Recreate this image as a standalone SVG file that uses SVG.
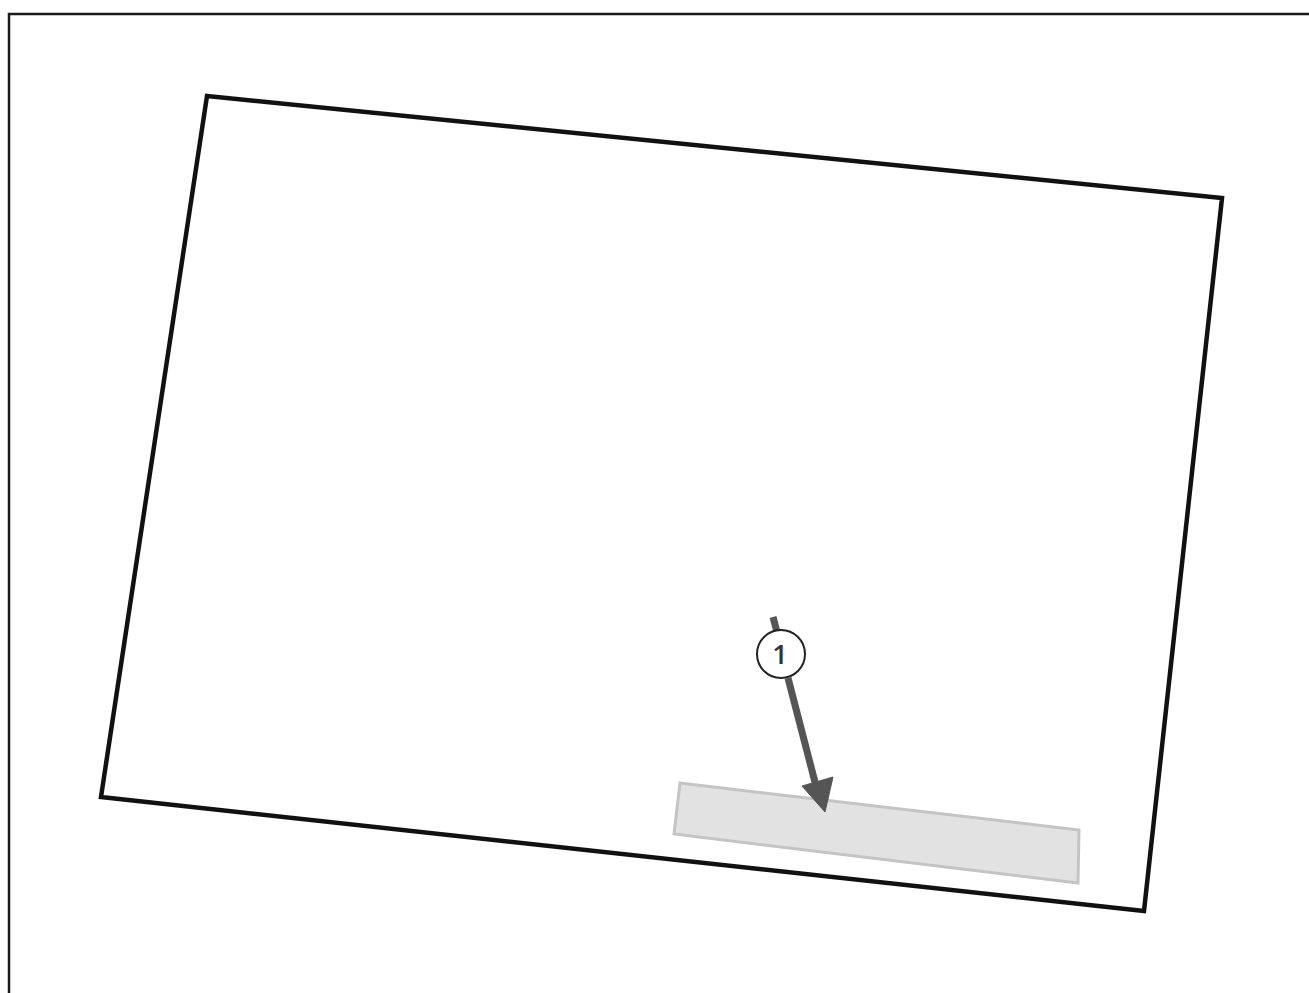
<svg xmlns="http://www.w3.org/2000/svg" width="1309" height="993" viewBox="0 0 1309 993">
<style>
.frame{fill:none;stroke:#1a1a1a;stroke-width:2.5}
.sheet{fill:#ffffff;stroke:#111;stroke-width:4.5;stroke-linejoin:miter}
.bar{fill:#e2e2e2;stroke:#c4c4c4;stroke-width:3}
.conn{stroke:#555;stroke-width:7;fill:none}
.head{fill:#555;stroke:#555;stroke-width:1;stroke-linejoin:round}
.badge{fill:#fff;stroke:#222;stroke-width:2}
.num{font-family:"Open Sans","Liberation Sans",sans-serif;font-size:27px;font-weight:600;fill:#333;text-anchor:middle}
</style>
<rect width="1309" height="993" fill="#fff"/>
<path class="frame" d="M9,993 L9,14 L1309,14"/>
<g id="sheet">
<polygon class="sheet" points="207,96 1222,198 1144,911 101,797"/>
</g>
<g id="bar">
<polygon class="bar" points="680,783 1079,830 1078,883 674,834"/>
</g>
<g id="connectors">
<line class="conn" x1="773" y1="617" x2="777" y2="632"/>
<line class="conn" x1="788" y1="678" x2="816" y2="786"/>
<polygon class="head" points="825,812 802,786 833,777"/>
</g>
<g id="badge1">
<circle class="badge" cx="781" cy="654" r="24"/>
<text class="num" x="780" y="664">1</text>
</g>
</svg>
